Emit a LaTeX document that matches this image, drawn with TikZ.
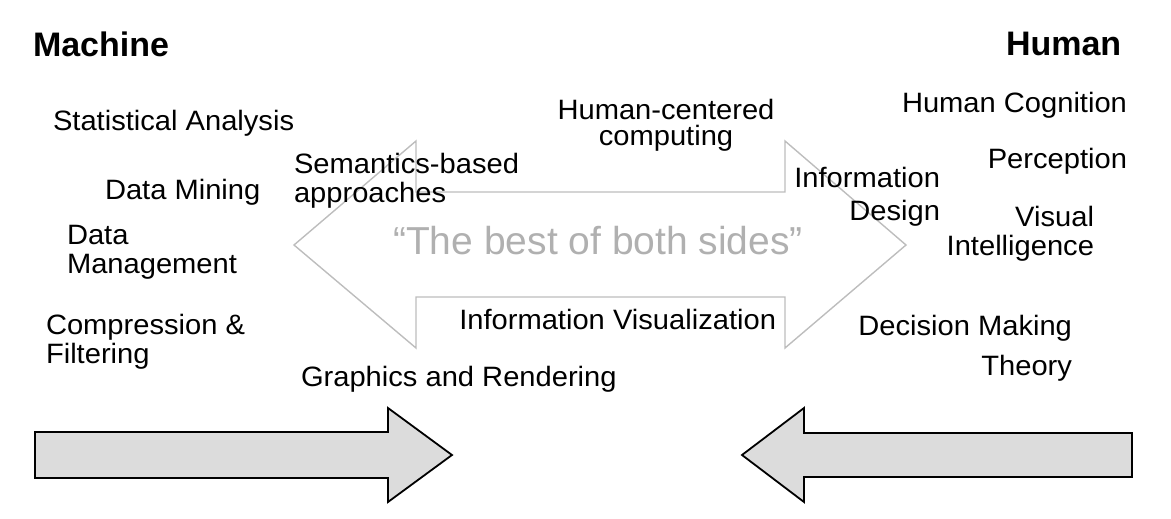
\documentclass[tikz,border=0pt]{standalone}
\usepackage{fontspec}
\setmainfont{Liberation Sans}[FakeStretch=1.04]
\newfontfamily\headfont{Liberation Sans}
\definecolor{arrowgray}{HTML}{BDBDBD}
\definecolor{mottogray}{HTML}{B0B0B0}
\definecolor{blockfill}{HTML}{DCDCDC}
\begin{document}
\begin{tikzpicture}[x=1pt,y=-1pt,
  lbl/.style={inner sep=0pt, outer sep=0pt, font=\fontsize{28}{29}\selectfont},
  head/.style={inner sep=0pt, outer sep=0pt, font=\headfont\bfseries\fontsize{34}{36}\selectfont},
  motto/.style={inner sep=0pt, outer sep=0pt, text=mottogray, font=\headfont\fontsize{39}{41}\selectfont},
  dblarrow/.style={draw=arrowgray, line width=1.4pt, line join=miter},
  blockarrow/.style={draw=black, fill=blockfill, line width=1.8pt, line join=miter}]
\useasboundingbox (0,0) rectangle (1171,519);
% big double-headed outline arrow
\draw[dblarrow] (294,245) -- (416,141) -- (416,192) -- (785,192) -- (785,141) -- (906,245)
  -- (785,348) -- (785,297) -- (416,297) -- (416,348) -- cycle;
% bottom block arrows
\draw[blockarrow] (35,432) -- (388,432) -- (388,408) -- (452,455) -- (388,502) -- (388,478) -- (35,478) -- cycle;
\draw[blockarrow] (1132,433) -- (804,433) -- (804,408) -- (742,455) -- (804,502) -- (804,477) -- (1132,477) -- cycle;
% headings
\node[head, anchor=base west] (machine) at (33,57) {Machine};
\node[head, anchor=base west] (human) at (1006,56) {Human};
% machine side (multi-line nodes: base = last line)
\node[lbl, anchor=base west] (stat) at (53,131) {Statistical Analysis};
\node[lbl, anchor=base west] (mining) at (105,199) {Data Mining};
\node[lbl, anchor=base west, align=left] (mgmt) at (67,273) {Data\\Management};
\node[lbl, anchor=base west, align=left] (compr) at (46,363) {Compression \&\\Filtering};
% middle
\node[lbl, anchor=base west, align=left] (sem) at (294,202) {Semantics-based\\approaches};
\node[lbl, anchor=base, align=center] (hcc) at (666,146) {Human-centered\\[-2pt]computing};
\node[motto, anchor=base] (best) at (598,254) {“The best of both sides”};
\node[lbl, anchor=base east] (infovis) at (776,329) {Information Visualization};
\node[lbl, anchor=base west] (graphics) at (301,386) {Graphics and Rendering};
% human side
\node[lbl, anchor=base east, align=right] (infodes) at (940,220) {Information\\[4pt]Design};
\node[lbl, anchor=base east] (cogn) at (1127,113) {Human Cognition};
\node[lbl, anchor=base east] (perc) at (1127,168) {Perception};
\node[lbl, anchor=base east, align=right] (visint) at (1094,255) {Visual\\Intelligence};
\node[lbl, anchor=base east, align=right] (decision) at (1072,375) {Decision Making\\[11pt]Theory};
\end{tikzpicture}
\end{document}
